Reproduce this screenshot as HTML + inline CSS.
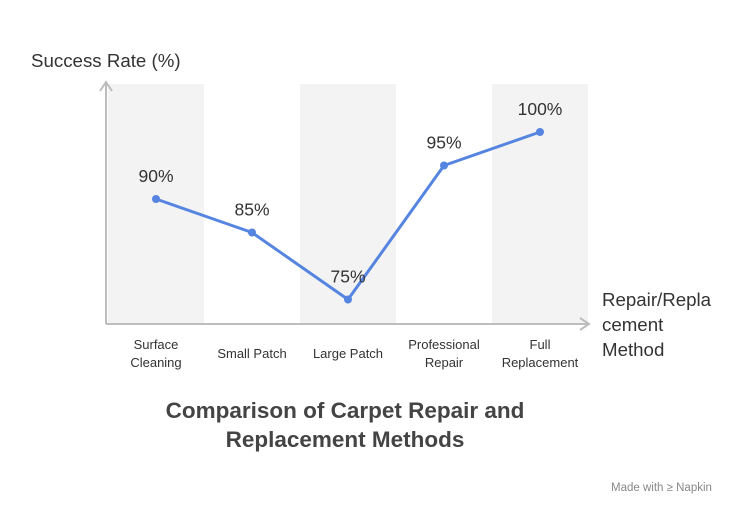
<!DOCTYPE html>
<html><head><meta charset="utf-8"><style>
body{margin:0;background:#fff;}
svg text{font-family:"Liberation Sans",sans-serif;}
</style></head><body>
<svg width="744" height="514" viewBox="0 0 744 514" xmlns="http://www.w3.org/2000/svg">
<g id="bands"></g>
<g id="axes">
<line x1="106" y1="324" x2="106" y2="82" stroke="#bdbdbd" stroke-width="2"/>
<polyline points="100,91 106,82 112,91" fill="none" stroke="#bdbdbd" stroke-width="2"/>
<line x1="106" y1="324" x2="588" y2="324" stroke="#bdbdbd" stroke-width="2"/>
<polyline points="580,318 589,324 580,330" fill="none" stroke="#bdbdbd" stroke-width="2"/>
</g>
<text x="31" y="67" font-size="18.7" fill="#333">Success Rate (%)</text>
<text font-size="18.7" fill="#333"><tspan x="602" y="306">Repair/Repla</tspan><tspan x="602" y="331">cement</tspan><tspan x="602" y="356">Method</tspan></text>
<g id="xlabels"></g>
<polyline id="line" fill="none" stroke="#5585e0" stroke-width="3" stroke-linejoin="round"/>
<g id="points"></g>
<text x="345" y="418" font-size="22.5" font-weight="bold" fill="#444" text-anchor="middle"><tspan x="345" y="418">Comparison of Carpet Repair and</tspan><tspan x="345" y="447">Replacement Methods</tspan></text>
<text x="611" y="491" font-size="11.5" fill="#888">Made with ≥ Napkin</text>
</svg>
<script>
const categories=[["Surface","Cleaning"],["Small Patch"],["Large Patch"],["Professional","Repair"],["Full","Replacement"]];
const values=[90,85,75,95,100];
const valueLabels=["90%","85%","75%","95%","100%"];
const NS="http://www.w3.org/2000/svg";
function xPos(i){return 156+i*96;}
function yPos(v){return 132+(100-v)*6.7;}
const bands=document.getElementById('bands'),xl=document.getElementById('xlabels'),pts=document.getElementById('points');
let pl=[];
categories.forEach((c,i)=>{
 if(i%2==0){const r=document.createElementNS(NS,'rect');
 r.setAttribute('x',xPos(i)-48);r.setAttribute('y',84);r.setAttribute('width',96);r.setAttribute('height',239);r.setAttribute('fill','#f3f3f3');
 
 
 bands.appendChild(r);}
 const t=document.createElementNS(NS,'text');
 t.setAttribute('text-anchor','middle');t.setAttribute('font-size','13');t.setAttribute('fill','#333');
 const y0=c.length==1?358:349;
 c.forEach((s,k)=>{const ts=document.createElementNS(NS,'tspan');ts.setAttribute('x',xPos(i));ts.setAttribute('y',y0+k*18);ts.textContent=s;t.appendChild(ts);});
 
 
 xl.appendChild(t);
 const x=xPos(i),y=yPos(values[i]);pl.push(x+','+y);
 const p=document.createElementNS(NS,'circle');p.setAttribute('cx',x);p.setAttribute('cy',y);p.setAttribute('r',4);p.setAttribute('fill','#5585e0');
 
 
 pts.appendChild(p);
 const l=document.createElementNS(NS,'text');l.setAttribute('x',x);l.setAttribute('y',y-17);l.setAttribute('text-anchor','middle');l.setAttribute('font-size','17.5');l.setAttribute('fill','#333');l.textContent=valueLabels[i];
 
 
 pts.appendChild(l);
});
document.getElementById('line').setAttribute('points',pl.join(' '));
</script>
</body></html>
